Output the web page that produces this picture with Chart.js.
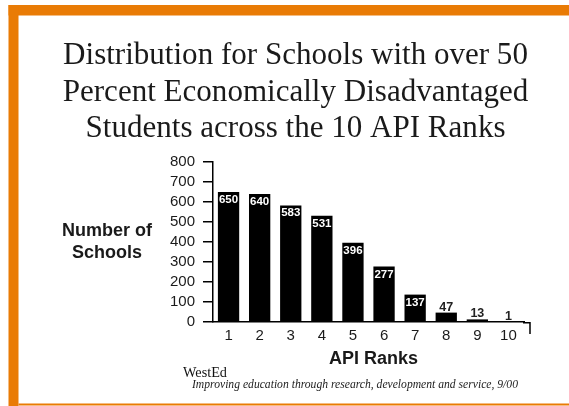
<!DOCTYPE html>
<html>
<head>
<meta charset="utf-8">
<script src="https://cdn.jsdelivr.net/npm/chart.js@4.4.1/dist/chart.umd.min.js"></script>
<style>
  html, body { margin: 0; padding: 0; background: #fff; }
  canvas { display: block; }
</style>
</head>
<body>
<canvas id="chart" width="569" height="406"></canvas>
<script>
// ================= DATA =================
const ranks = ["1", "2", "3", "4", "5", "6", "7", "8", "9", "10"];
const schools = [650, 640, 583, 531, 396, 277, 137, 47, 13, 1];
const titleLines = [
    "Distribution for Schools with over 50",
    "Percent Economically Disadvantaged",
    "Students across the 10 API Ranks"
];
const yLabelLines = ["Number of", "Schools"];
const xLabel = "API Ranks";
const footerBrand = "WestEd";
const footerNote = "Improving education through research, development and service, 9/00";

const ORANGE = "#e97b05";
const INK = "#1a1a1a";
const SERIF = "\"Liberation Serif\", \"Times New Roman\", serif";
const SANS = "\"Liberation Sans\", Arial, sans-serif";

// fit a font size so the text spans the wanted width
function fitSize(ctx, text, style, base, width) {
    ctx.font = `${style} ${base}px ${SERIF}`;
    return base * width / ctx.measureText(text).width;
}

// ================= DECOR: border, title, axis names, footer =================
const decor = {
    id: "decor",
    beforeDraw(chart) {
        const ctx = chart.ctx;
        ctx.save();
        ctx.fillStyle = "#fff";
        ctx.fillRect(0, 0, chart.width, chart.height);
        ctx.fillStyle = ORANGE;
        ctx.fillRect(8.5, 5, chart.width - 8.5, 10.5);   // top band
        ctx.fillRect(8.5, 5, 10, chart.height - 5);     // left band
        ctx.fillRect(18.5, 403.5, chart.width, 2);      // bottom line
        ctx.restore();
    },
    afterDraw(chart) {
        const ctx = chart.ctx;
        const { right, bottom } = chart.chartArea;
        ctx.save();

        // title
        const tSize = fitSize(ctx, titleLines[0], "normal", 30, 465);
        ctx.font = `normal ${tSize.toFixed(2)}px ${SERIF}`;
        ctx.fillStyle = INK;
        ctx.textAlign = "center";
        ctx.textBaseline = "alphabetic";
        [63.5, 100.5, 137].forEach((y, i) => ctx.fillText(titleLines[i], 295.5, y));

        // y axis name (horizontal, left of the axis)
        ctx.font = `bold 18px ${SANS}`;
        ctx.fillText(yLabelLines[0], 107, 236);
        ctx.fillText(yLabelLines[1], 107, 257.5);

        // x axis name
        ctx.fillText(xLabel, 373.5, 364);

        // x axis runs a little past the last category, with an end tick
        ctx.strokeStyle = "#000";
        ctx.lineWidth = 1.5;
        ctx.beginPath();
        ctx.moveTo(right - 1, bottom + 0.75);
        ctx.lineTo(530, bottom + 0.75);
        ctx.moveTo(530, bottom);
        ctx.lineTo(530, bottom + 12);
        ctx.stroke();

        // footer
        ctx.textAlign = "left";
        ctx.font = `normal ${fitSize(ctx, footerBrand, "normal", 14, 44).toFixed(2)}px ${SERIF}`;
        ctx.fillStyle = "#111";
        ctx.fillText(footerBrand, 183, 376.5);
        ctx.font = `italic ${fitSize(ctx, footerNote, "italic", 12, 326).toFixed(2)}px ${SERIF}`;
        ctx.fillStyle = "#222";
        ctx.fillText(footerNote, 192, 388);
        ctx.restore();
    }
};

// ================= VALUE LABELS =================
const valueLabels = {
    id: "valueLabels",
    afterDatasetsDraw(chart) {
        const ctx = chart.ctx;
        const meta = chart.getDatasetMeta(0);
        ctx.save();
        ctx.textAlign = "center";
        meta.data.forEach((bar, i) => {
            const v = schools[i];
            if (v >= 100) {
                ctx.font = `bold 11.5px ${SANS}`;
                ctx.fillStyle = "#fff";
                ctx.textBaseline = "top";
                ctx.fillText(String(v), bar.x, bar.y + 2);
            } else {
                ctx.font = `bold 12.5px ${SANS}`;
                ctx.fillStyle = "#222";
                ctx.textBaseline = "alphabetic";
                ctx.fillText(String(v), bar.x, bar.y - 2);
            }
        });
        ctx.restore();
    }
};

new Chart(document.getElementById("chart"), {
    type: "bar",
    data: {
        labels: ranks,
        datasets: [{
            data: schools,
            backgroundColor: "#000",
            borderWidth: 0,
            barPercentage: 0.685,
            categoryPercentage: 1
        }]
    },
    options: {
        responsive: false,
        devicePixelRatio: 1,
        animation: false,
        layout: { padding: { top: 162, right: 45, bottom: 0, left: 0 } },
        plugins: {
            legend: { display: false },
            tooltip: { enabled: false },
            title: { display: false }
        },
        scales: {
            x: {
                grid: { display: false, drawTicks: false },
                border: { display: true, color: "#000", width: 1.5 },
                ticks: {
                    color: INK,
                    padding: 5,
                    autoSkip: false,
                    maxRotation: 0,
                    font: { family: SANS, size: 15 }
                },
                afterFit: s => { s.height = 84; }
            },
            y: {
                min: 0,
                max: 800,
                grid: { drawOnChartArea: false, tickLength: 10, color: "#000", lineWidth: 1.5 },
                border: { display: true, color: "#000", width: 1.5 },
                ticks: {
                    stepSize: 100,
                    autoSkip: false,
                    color: INK,
                    padding: 8,
                    font: { family: SANS, size: 15 }
                },
                afterFit: s => { s.width = 213; }
            }
        }
    },
    plugins: [decor, valueLabels]
});
</script>
</body>
</html>
